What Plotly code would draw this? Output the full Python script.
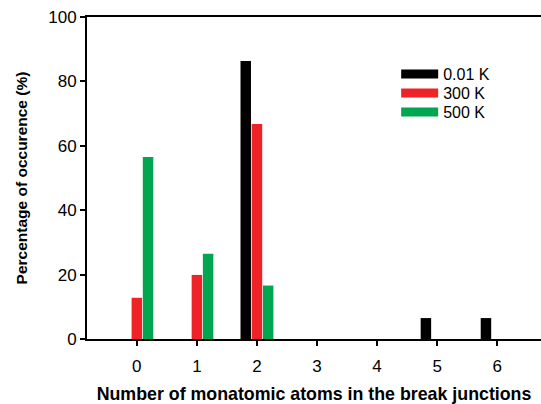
import plotly.graph_objects as go

categories = [0, 1, 2, 3, 4, 5, 6]
series_names = ["0.01 K", "300 K", "500 K"]
vals_001K = [0, 0, 86.3, 0, 0, 6.5, 6.5]
vals_300K = [12.8, 19.9, 66.8, 0, 0, 0, 0]
vals_500K = [56.5, 26.5, 16.6, 0, 0, 0, 0]
colors = ["#000000", "#ee2227", "#00a650"]
y_ticks = [0, 20, 40, 60, 80, 100]

fig = go.Figure()
for name, vals, c in zip(series_names, [vals_001K, vals_300K, vals_500K], colors):
    fig.add_trace(go.Bar(x=categories, y=vals, name=name, marker=dict(color=c, line=dict(width=0)),
                         showlegend=False))
legend_ids = ["legend", "legend2", "legend3"]
for name, c, lid in zip(series_names, colors, legend_ids):
    fig.add_trace(go.Scatter(x=[None], y=[None], mode="lines", name=name, legend=lid,
                             line=dict(color=c, width=9), showlegend=True))

font_family = "Liberation Sans, Arial, sans-serif"
leg_common = dict(xanchor="left", yanchor="middle", font=dict(size=16, color="black"),
                  bgcolor="rgba(0,0,0,0)", itemwidth=37)
row_y = [0.823, 0.764, 0.705]
lx = 0.681
fig.update_layout(
    width=541, height=404,
    margin=dict(l=87, r=0, t=17, b=65),
    plot_bgcolor="white", paper_bgcolor="white",
    barmode="group", bargap=0.44, bargroupgap=0.065,
    font=dict(family=font_family, size=17, color="black"),
    legend=dict(x=lx, y=row_y[0], **leg_common),
    legend2=dict(x=lx, y=row_y[1], **leg_common),
    legend3=dict(x=lx, y=row_y[2], **leg_common),
    xaxis=dict(range=[-0.83, 6.73], tickvals=categories, ticktext=[str(c) for c in categories],
               showgrid=False, zeroline=False, showline=True, linecolor="black", linewidth=2,
               mirror=True, ticks="outside", ticklen=5, tickwidth=1.5, tickcolor="black",
               tickfont=dict(size=17), ticklabelstandoff=6,
               title=dict(text="<b>Number of monatomic atoms in the break junctions</b>",
                          font=dict(size=17.8), standoff=14)),
    yaxis=dict(range=[0, 100], tickvals=y_ticks, showgrid=False, zeroline=False,
               showline=True, linecolor="black", linewidth=2, mirror=False,
               ticks="outside", ticklen=5, tickwidth=1.5, tickcolor="black",
               tickfont=dict(size=17),
               title=dict(text="<b>Percentage of occurence (%)</b>", font=dict(size=15.5), standoff=17)),
)
fig.write_html("out.html")
